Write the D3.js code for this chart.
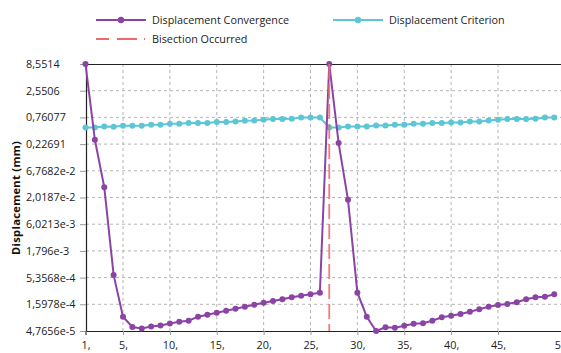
<!DOCTYPE html>
<html>
<head>
<meta charset="utf-8">
<script src="https://cdn.jsdelivr.net/npm/d3@7"></script>
<style>
  html, body { margin: 0; padding: 0; background: #fff; overflow: hidden; }
  svg { display: block; font-family: "Open Sans", "Noto Sans", sans-serif; }
</style>
</head>
<body>
<svg id="chart" width="561" height="353"></svg>
<script>
// ---- data ----
const substeps = d3.range(1, 52);
const convergence = [
  8.5514, 0.2755, 0.03225, 6.04e-4, 9.12e-5, 5.71e-5, 5.34e-5, 5.84e-5, 6.12e-5, 6.70e-5,
  7.27e-5, 7.57e-5, 9.12e-5, 9.98e-5, 1.093e-4, 1.191e-4, 1.304e-4, 1.435e-4, 1.564e-4, 1.721e-4,
  1.859e-4, 2.008e-4, 2.198e-4, 2.364e-4, 2.519e-4, 2.707e-4, 8.5514, 0.2373, 0.01814, 2.707e-4,
  9.12e-5, 4.7656e-5, 5.64e-5, 5.54e-5, 6.06e-5, 6.64e-5, 6.76e-5, 7.60e-5, 8.87e-5, 9.54e-5,
  1.030e-4, 1.144e-4, 1.276e-4, 1.435e-4, 1.550e-4, 1.622e-4, 1.752e-4, 2.008e-4, 2.198e-4, 2.259e-4,
  2.519e-4
];
const criterion = [
  0.4818, 0.4818, 0.5038, 0.4970, 0.5204, 0.5204, 0.5204, 0.5443, 0.5443, 0.5699,
  0.5699, 0.5885, 0.5885, 0.5885, 0.6153, 0.6153, 0.6322, 0.6529, 0.6615, 0.6829,
  0.7048, 0.7048, 0.7143, 0.7577, 0.7577, 0.7577, 0.4818, 0.4818, 0.5038, 0.5038,
  0.5038, 0.5275, 0.5275, 0.5443, 0.5443, 0.5699, 0.5699, 0.5885, 0.5885, 0.6043,
  0.6043, 0.6322, 0.6322, 0.6615, 0.6829, 0.7048, 0.7048, 0.7048, 0.7143, 0.7577,
  0.7577
];
const bisections = [27];
const yTickValues = [8.5514, 2.5506, 0.76077, 0.22691, 6.7682e-2, 2.0187e-2, 6.0213e-3, 1.796e-3, 5.3568e-4, 1.5978e-4, 4.7656e-5];
const yTickLabels = ["8,5514", "2,5506", "0,76077", "0,22691", "6,7682e-2", "2,0187e-2", "6,0213e-3", "1,796e-3", "5,3568e-4", "1,5978e-4", "4,7656e-5"];
const xTickValues = [1, 5, 10, 15, 20, 25, 30, 35, 40, 45, 51.8];
const xTickLabels = ["1,", "5,", "10,", "15,", "20,", "25,", "30,", "35,", "40,", "45,", "52,"];
const seriesNames = ["Displacement Convergence", "Displacement Criterion", "Bisection Occurred"];
const yTitle = "Displacement (mm)";

// ---- layout ----
const colPurple = "#8b44a6", colCyan = "#5cc6d6", colRed = "#ef6f6f";
const svg = d3.select("#chart");
const pLeft = 86, pTop = 64, pBottom = 331, pRight = 561;
const x = d3.scaleLinear().domain([1, 52]).range([85.5, 85.5 + 51 * 9.375]);
const y = d3.scaleLog().domain([4.7656e-5, 8.5514]).range([pBottom, pTop]);

// grid
const grid = svg.append("g");
grid.selectAll("line.h").data(yTickValues.slice(1, -1)).join("line")
  .attr("x1", pLeft).attr("x2", pRight)
  .attr("y1", d => y(d)).attr("y2", d => y(d))
  .attr("stroke", "#b4b4b4").attr("stroke-width", 1).attr("stroke-dasharray", "3,3");
grid.selectAll("line.v").data(xTickValues.slice(1)).join("line")
  .attr("x1", d => x(d)).attr("x2", d => x(d))
  .attr("y1", pTop).attr("y2", pBottom)
  .attr("stroke", "#b4b4b4").attr("stroke-width", 1).attr("stroke-dasharray", "3,3");

// top border
svg.append("line").attr("x1", pLeft).attr("x2", pRight).attr("y1", pTop + 0.5).attr("y2", pTop + 0.5)
  .attr("stroke", "#222").attr("stroke-width", 1.2);

// y axis
const yAxis = d3.axisLeft(y).tickValues(yTickValues).tickSize(6).tickFormat((d, i) => yTickLabels[i]);
const gy = svg.append("g").attr("transform", `translate(${pLeft},0)`).call(yAxis);
gy.select(".domain").attr("stroke", "#222").attr("stroke-width", 1.2);
gy.selectAll(".tick line").attr("stroke", "#999");
gy.selectAll(".tick text").attr("text-anchor", "start").attr("x", 26 - pLeft)
  .attr("font-size", 10.8).attr("fill", "#222")
  .attr("font-family", "'Open Sans', sans-serif");

// x axis
const xAxis = d3.axisBottom(x).tickValues(xTickValues).tickSize(4).tickFormat((d, i) => xTickLabels[i]);
const gx = svg.append("g").attr("transform", `translate(0,${pBottom})`).call(xAxis);
gx.select(".domain").attr("stroke", "#222").attr("stroke-width", 1.2);
gx.selectAll(".tick line").attr("stroke", "#999");
gx.selectAll(".tick text").attr("font-size", 10.8).attr("fill", "#222").attr("dy", "1em")
  .attr("font-family", "'Open Sans', sans-serif");

// y title
svg.append("text").attr("transform", `translate(20,198) rotate(-90)`)
  .attr("text-anchor", "middle").attr("font-size", 11.2).attr("font-weight", "bold")
  .attr("fill", "#111").attr("letter-spacing", 0.3).text(yTitle);

// lines
const critData = substeps.map((s, i) => [s, criterion[i]]);
const convData = substeps.map((s, i) => [s, convergence[i]]);
const line = d3.line().x(d => x(d[0])).y(d => y(d[1]));

svg.append("clipPath").attr("id", "pc").append("rect")
  .attr("x", 80).attr("y", 55).attr("width", 490).attr("height", 285);
const plot = svg.append("g").attr("clip-path", "url(#pc)");

plot.append("path").datum(critData).attr("d", line).attr("fill", "none")
  .attr("stroke", colCyan).attr("stroke-width", 2);
plot.selectAll("circle.c").data(critData).join("circle")
  .attr("cx", d => x(d[0])).attr("cy", d => y(d[1])).attr("r", 3).attr("fill", colCyan);

plot.append("path").datum(convData).attr("d", line).attr("fill", "none")
  .attr("stroke", colPurple).attr("stroke-width", 2);
plot.selectAll("circle.p").data(convData).join("circle")
  .attr("cx", d => x(d[0])).attr("cy", d => y(d[1])).attr("r", 3).attr("fill", colPurple);

plot.selectAll("line.b").data(bisections).join("line")
  .attr("x1", d => x(d)).attr("x2", d => x(d)).attr("y1", pTop).attr("y2", pBottom)
  .attr("stroke", colRed).attr("stroke-width", 1.8).attr("stroke-dasharray", "15,5")
  .attr("opacity", 0.9);

// legend
const lg = svg.append("g").attr("font-size", 10.8).attr("fill", "#222");
function legendItem(x0, y0, color, name, marker, dash) {
  lg.append("line").attr("x1", x0).attr("x2", x0 + 50).attr("y1", y0).attr("y2", y0)
    .attr("stroke", color).attr("stroke-width", dash ? 1.3 : 2)
    .attr("stroke-dasharray", dash || null);
  if (marker) lg.append("circle").attr("cx", x0 + 25).attr("cy", y0).attr("r", 3.2).attr("fill", color);
  lg.append("text").attr("x", x0 + 56).attr("y", y0).attr("dy", "0.35em").text(name);
}
legendItem(96, 20, colPurple, seriesNames[0], true, null);
legendItem(333, 20, colCyan, seriesNames[1], true, null);
legendItem(96, 39, "#e8383c", seriesNames[2], false, "13,8,20,7,1,40");
</script>
</body>
</html>
